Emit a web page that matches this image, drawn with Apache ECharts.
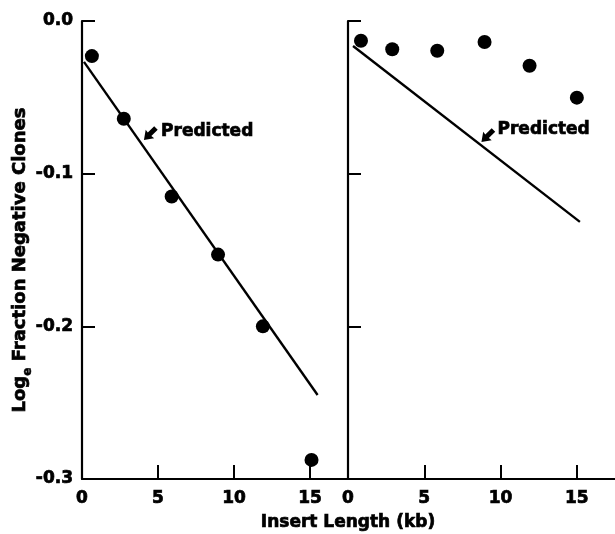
<!DOCTYPE html>
<html><head><meta charset="utf-8">
<script src="https://cdn.jsdelivr.net/npm/echarts@6/dist/echarts.min.js"></script>
<style>html,body{margin:0;padding:0;background:#fff}#c{width:615px;height:534px}</style>
</head><body><div id="c"></div>
<script>
// ---- data ----
const xTicks = [0, 5, 10, 15];
const yTickValues = [0, -0.1, -0.2, -0.3];
const leftX = [0.65, 2.75, 5.9, 8.95, 11.9, 15.1];
const leftY = [-0.023, -0.064, -0.115, -0.153, -0.200, -0.2875];
const rightX = [0.85, 2.9, 5.85, 8.95, 11.9, 15.0];
const rightY = [-0.0129, -0.0185, -0.0195, -0.0138, -0.0293, -0.0502];
const leftPredX = [0.13, 15.5];
const leftPredY = [-0.0268, -0.245];
const rightPredX = [0.33, 15.2];
const rightPredY = [-0.0164, -0.1316];
const annotText = 'Predicted';
const leftArrow = [4.47, -0.074];
const leftLabel = [5.2, -0.0714];
const rightArrow = [9.14, -0.0753];
const rightLabel = [9.8, -0.0701];
const xTitle = 'Insert Length (kb)';
const yTitleParts = ['Log', 'e', ' Fraction Negative Clones'];

// ---- chart ----
const FONT = 'DejaVu Sans';
const STROKE = { textBorderColor: '#000', textBorderWidth: 0.7 };
const zip = (a, b) => a.map((v, i) => [v, b[i]]);
const arrowPath = 'path://M6,0 L12,8 L8.5,7.5 L8.5,16 L3.5,16 L3.5,7.5 L0,8 Z';

function xAxis(gi) {
  return {
    type: 'value', gridIndex: gi, min: 0, max: 17.5, interval: 5,
    axisLine: { show: true, onZero: false, lineStyle: { color: '#000', width: 2.2 } },
    axisTick: { show: true, inside: true, length: 14, customValues: xTicks, lineStyle: { color: '#000', width: 2 } },
    axisLabel: Object.assign({ show: true, customValues: xTicks, color: '#000', fontFamily: FONT, fontWeight: 'bold', fontSize: 17, margin: 11 }, STROKE),
    splitLine: { show: false }
  };
}
function yAxis(gi, showLabels) {
  return {
    type: 'value', gridIndex: gi, min: -0.3, max: 0, interval: 0.1,
    axisLine: { show: true, onZero: false, lineStyle: { color: '#000', width: 2.2 } },
    axisTick: { show: true, inside: true, length: 13, customValues: yTickValues, lineStyle: { color: '#000', width: 2 } },
    axisLabel: Object.assign({
      show: showLabels, customValues: yTickValues, color: '#000', fontFamily: FONT, fontWeight: 'bold', fontSize: 17, margin: 9,
      formatter: v => (Math.abs(v) < 1e-9 ? 0 : v).toFixed(1)
    }, STROKE),
    splitLine: { show: false }
  };
}
function dots(gi, xs, ys) {
  return { type: 'scatter', xAxisIndex: gi, yAxisIndex: gi, data: zip(xs, ys), symbol: 'circle', symbolSize: 14,
    itemStyle: { color: '#000', opacity: 1 }, z: 5, silent: true };
}
function predLine(gi, xs, ys) {
  return { type: 'line', xAxisIndex: gi, yAxisIndex: gi, data: zip(xs, ys), symbol: 'none',
    lineStyle: { color: '#000', width: 2.4 }, z: 3, silent: true };
}
function arrow(gi, p) {
  return { type: 'scatter', xAxisIndex: gi, yAxisIndex: gi, data: [p], symbol: arrowPath, symbolSize: [12, 17],
    symbolRotate: 135, itemStyle: { color: '#000', opacity: 1 }, silent: true };
}
function label(gi, p) {
  return { type: 'scatter', xAxisIndex: gi, yAxisIndex: gi, data: [p], symbolSize: 0,
    itemStyle: { color: '#000', opacity: 1 }, silent: true,
    label: Object.assign({ show: true, position: 'right', distance: 0, offset: [0, 2], formatter: annotText, color: '#000', opacity: 1,
      fontFamily: FONT, fontWeight: 'bold', fontSize: 17 }, STROKE) };
}

const chart = echarts.init(document.getElementById('c'), null, { renderer: 'canvas' });
chart.setOption({
  animation: false,
  backgroundColor: '#fff',
  grid: [
    { left: 82, top: 21, width: 266, height: 458 },
    { left: 348, top: 21, width: 267, height: 458 }
  ],
  xAxis: [xAxis(0), xAxis(1)],
  yAxis: [yAxis(0, true), yAxis(1, false)],
  series: [
    predLine(0, leftPredX, leftPredY),
    dots(0, leftX, leftY),
    arrow(0, leftArrow),
    label(0, leftLabel),
    predLine(1, rightPredX, rightPredY),
    dots(1, rightX, rightY),
    arrow(1, rightArrow),
    label(1, rightLabel)
  ],
  graphic: [
    { type: 'text', x: 348, y: 523, style: { text: xTitle, fill: '#000', stroke: '#000', lineWidth: 0.7, font: 'bold 17px "DejaVu Sans"', align: 'center', verticalAlign: 'middle' } },
    { type: 'text', x: 28, y: 260, rotation: Math.PI / 2,
      style: {
        text: '{m|' + yTitleParts[0] + '}{s|' + yTitleParts[1] + '}{m|' + yTitleParts[2] + '}',
        align: 'center', verticalAlign: 'middle', fill: '#000', stroke: '#000', lineWidth: 0.7,
        rich: {
          m: { fontFamily: FONT, fontWeight: 'bold', fontSize: 18, lineHeight: 18, verticalAlign: 'top', fill: '#000', stroke: '#000', lineWidth: 0.7 },
          s: { fontFamily: FONT, fontWeight: 'bold', fontSize: 12, lineHeight: 34, verticalAlign: 'middle', fill: '#000', stroke: '#000', lineWidth: 0.5 }
        }
      } }
  ]
});
</script>
</body></html>
